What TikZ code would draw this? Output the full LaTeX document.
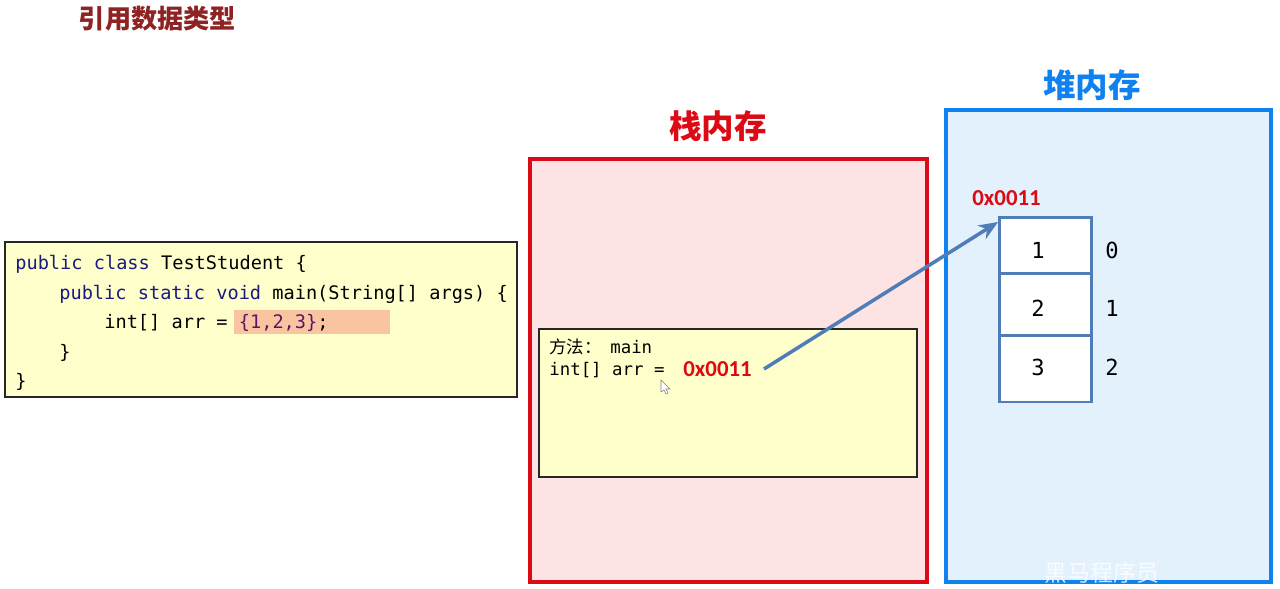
\documentclass[tikz,border=0pt]{standalone}
\usepackage{fontspec}
\usepackage{xcolor}
\setmainfont{Carlito}
\setmonofont{DejaVu Sans Mono}
\newfontfamily\cjk{Noto Sans CJK SC}
\usetikzlibrary{arrows.meta}
\definecolor{stackred}{HTML}{DC0A14}
\definecolor{stackfill}{HTML}{FDE3E4}
\definecolor{heapblue}{HTML}{0F82F0}
\definecolor{heapfill}{HTML}{E3F1FD}
\definecolor{codefill}{HTML}{FFFFCC}
\definecolor{cellblue}{HTML}{4F7DB8}
\definecolor{keyword}{HTML}{1A1A80}
\definecolor{literal}{HTML}{551A66}
\definecolor{hilite}{HTML}{FBC4A0}
\definecolor{titlered}{HTML}{8F2323}
\tikzset{
  region/.style={draw, line width=2.3pt, inner sep=0pt},
  codebox/.style={draw=black!85, fill=codefill, line width=.7pt, inner sep=0pt},
  heading/.style={font=\cjk\fontsize{18.5}{20}\selectfont\bfseries},
  codeline/.style={anchor=west, inner sep=0pt, font=\ttfamily\fontsize{10.6}{12}\selectfont},
  frameline/.style={anchor=west, inner sep=0pt, font=\ttfamily\fontsize{9.9}{11}\selectfont},
  addr/.style={anchor=west, inner sep=0pt, text=stackred, font=\fontsize{13}{15}\selectfont\bfseries},
  cell/.style={draw=cellblue, fill=white, line width=1.7pt, inner sep=0pt, minimum width=1.84cm},
  idx/.style={inner sep=0pt, font=\ttfamily\fontsize{12.6}{14}\selectfont},
}
\newcommand{\kw}[1]{\textcolor{keyword}{#1}}
\begin{document}
\begin{tikzpicture}[x=.02cm,y=-.02cm]
\useasboundingbox (0,0) rectangle (1280,588);
% title
\node[inner sep=0pt, text=titlered, font=\cjk\fontsize{14.9}{16}\selectfont\bfseries] (title) at (157.5,19) {引用数据类型};
% code on the left
\node[codebox, minimum width=10.24cm, minimum height=3.1cm] (codeleft) at (261,319.5) {};
\fill[hilite] (234,310) rectangle (390,334);
\node[codeline] (line1) at (15,264) {\kw{public} \kw{class} TestStudent \{};
\node[codeline] (line2) at (59,294) {\kw{public} \kw{static} \kw{void} main(String[] args) \{};
\node[codeline] (line3) at (104,323) {int[] arr = \textcolor{literal}{\{1,2,3\}};};
\node[codeline] (line4) at (59,353) {\}};
\node[codeline] (line5) at (15,382) {\}};
% stack
\node[region, draw=stackred, fill=stackfill, minimum width=7.94cm, minimum height=8.46cm] (stack) at (728.5,370.5) {};
\node[heading, text=stackred] (stacktitle) at (718,126) {栈内存};
\node[codebox, minimum width=7.56cm, minimum height=2.96cm] (frame) at (728,403) {};
\node[frameline] (method) at (549,347) {{\cjk 方法：}\hspace{5pt}main};
\node[frameline] (arr) at (549,370) {int[] arr =};
\node[addr] (addrstack) at (683,369) {0x0011};
% heap
\node[region, draw=heapblue, fill=heapfill, minimum width=6.5cm, minimum height=9.44cm] (heap) at (1108.5,346) {};
\node[heading, text=heapblue] (heaptitle) at (1092,85) {堆内存};
\node[addr] (addrheap) at (972,198) {0x0011};
\node[cell, minimum height=1.12cm] (cell1) at (1045,245) {};
\node[cell, minimum height=1.24cm] (cell2) at (1045,304) {};
\node[cell, minimum height=1.34cm] (cell3) at (1045,368.5) {};
\node[idx] (val1) at (1038,250) {1};
\node[idx] (val2) at (1038,308) {2};
\node[idx] (val3) at (1038,367) {3};
\node[idx] (idx0) at (1112,250) {0};
\node[idx] (idx1) at (1112,308) {1};
\node[idx] (idx2) at (1112,367) {2};
% reference
\coordinate (from) at (764,369);
\coordinate (to) at (998,222);
\draw[-{Stealth[length=11pt,width=9pt]}, cellblue, line width=2pt] (from) -- (to);
% mouse pointer
\draw[gray, fill=white, line width=.3pt] (661,380) -- (661,392) -- (664,390) -- (666,394) -- (668,393) -- (666,389) -- (670,389) -- cycle;
% watermark
\node[inner sep=0pt, text=white, opacity=.8, font=\cjk\fontsize{13}{14}\selectfont] (mark) at (1102,573) {黑马程序员};
\end{tikzpicture}
\end{document}
